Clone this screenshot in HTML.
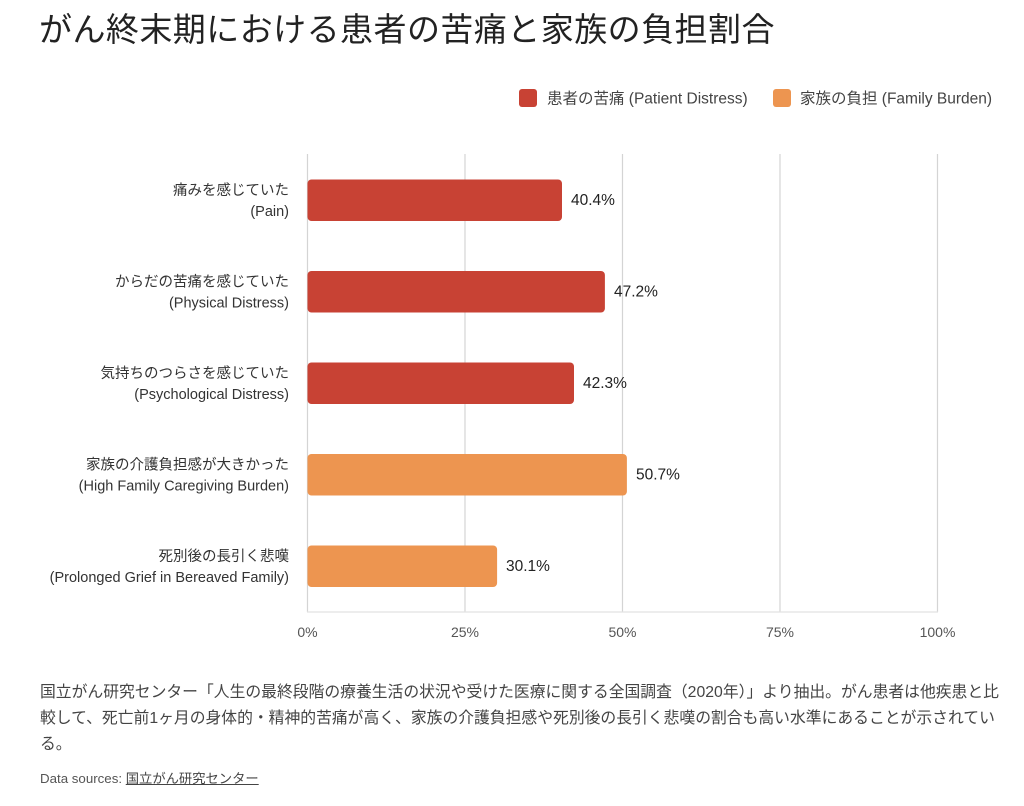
<!DOCTYPE html>
<html lang="ja">
<head>
<meta charset="utf-8">
<style>
  html, body { margin: 0; padding: 0; background: #ffffff; }
  body { width: 1024px; height: 806px; position: relative; overflow: hidden;
         font-family: "Liberation Sans", "Noto Sans CJK JP", sans-serif; }
  .title { position: absolute; left: 39px; top: 10px; font-size: 33px; color: #222;
           white-space: nowrap; line-height: 40px; letter-spacing: 0.45px; }
  svg { position: absolute; left: 0; top: 0; }
  .caption { position: absolute; left: 40px; top: 680px; font-size: 15.8px; line-height: 26px;
             color: #444; white-space: nowrap; }
  .src { position: absolute; left: 40px; top: 771px; font-size: 13.3px; color: #555; white-space: nowrap; line-height: 16px; }
  .src span { text-decoration: underline; color: #444; }
</style>
</head>
<body>
<div class="title">がん終末期における患者の苦痛と家族の負担割合</div>

<svg width="1024" height="806" viewBox="0 0 1024 806" xmlns="http://www.w3.org/2000/svg"
     font-family="'Liberation Sans', 'Noto Sans CJK JP', sans-serif">
  <!-- legend -->
  <rect x="519" y="89" width="18" height="18" rx="3" fill="#C84234"/>
  <text x="547" y="103.5" font-size="15.5" fill="#444">患者の苦痛 (Patient Distress)</text>
  <rect x="773" y="89" width="18" height="18" rx="3" fill="#ED9550"/>
  <text x="800" y="103.5" font-size="15.5" fill="#444">家族の負担 (Family Burden)</text>

  <!-- gridlines -->
  <g stroke="#d4d4d4" stroke-width="1.2">
    <line x1="307.5" y1="154" x2="307.5" y2="612"/>
    <line x1="465" y1="154" x2="465" y2="612"/>
    <line x1="622.5" y1="154" x2="622.5" y2="612"/>
    <line x1="780" y1="154" x2="780" y2="612"/>
    <line x1="937.5" y1="154" x2="937.5" y2="612"/>
  </g>
  <line x1="307" y1="612" x2="938" y2="612" stroke="#e2e2e2" stroke-width="1.2"/>

  <!-- bars -->
  <rect x="307.5" y="179.5" width="254.5" height="41.5" rx="4" fill="#C84234"/>
  <rect x="307.5" y="271" width="297.4" height="41.5" rx="4" fill="#C84234"/>
  <rect x="307.5" y="362.5" width="266.5" height="41.5" rx="4" fill="#C84234"/>
  <rect x="307.5" y="454" width="319.4" height="41.5" rx="4" fill="#ED9550"/>
  <rect x="307.5" y="545.5" width="189.6" height="41.5" rx="4" fill="#ED9550"/>

  <!-- value labels -->
  <g font-size="15.5" fill="#222">
    <text x="571" y="205">40.4%</text>
    <text x="614" y="296.5">47.2%</text>
    <text x="583" y="388">42.3%</text>
    <text x="636" y="479.5">50.7%</text>
    <text x="506" y="571">30.1%</text>
  </g>

  <!-- category labels -->
  <g font-size="14.5" fill="#333" text-anchor="end">
    <text x="289" y="195">痛みを感じていた</text>
    <text x="289" y="216">(Pain)</text>
    <text x="289" y="286.5">からだの苦痛を感じていた</text>
    <text x="289" y="307.5">(Physical Distress)</text>
    <text x="289" y="378">気持ちのつらさを感じていた</text>
    <text x="289" y="399">(Psychological Distress)</text>
    <text x="289" y="469.5">家族の介護負担感が大きかった</text>
    <text x="289" y="490.5">(High Family Caregiving Burden)</text>
    <text x="289" y="561">死別後の長引く悲嘆</text>
    <text x="289" y="582">(Prolonged Grief in Bereaved Family)</text>
  </g>

  <!-- x tick labels -->
  <g font-size="14" fill="#555" text-anchor="middle">
    <text x="307.5" y="637">0%</text>
    <text x="465" y="637">25%</text>
    <text x="622.5" y="637">50%</text>
    <text x="780" y="637">75%</text>
    <text x="937.5" y="637">100%</text>
  </g>
</svg>

<div class="caption">国立がん研究センター「人生の最終段階の療養生活の状況や受けた医療に関する全国調査（2020年）」より抽出。がん患者は他疾患と比<br>較して、死亡前1ヶ月の身体的・精神的苦痛が高く、家族の介護負担感や死別後の長引く悲嘆の割合も高い水準にあることが示されてい<br>る。</div>
<div class="src">Data sources: <span>国立がん研究センター</span></div>
</body>
</html>
